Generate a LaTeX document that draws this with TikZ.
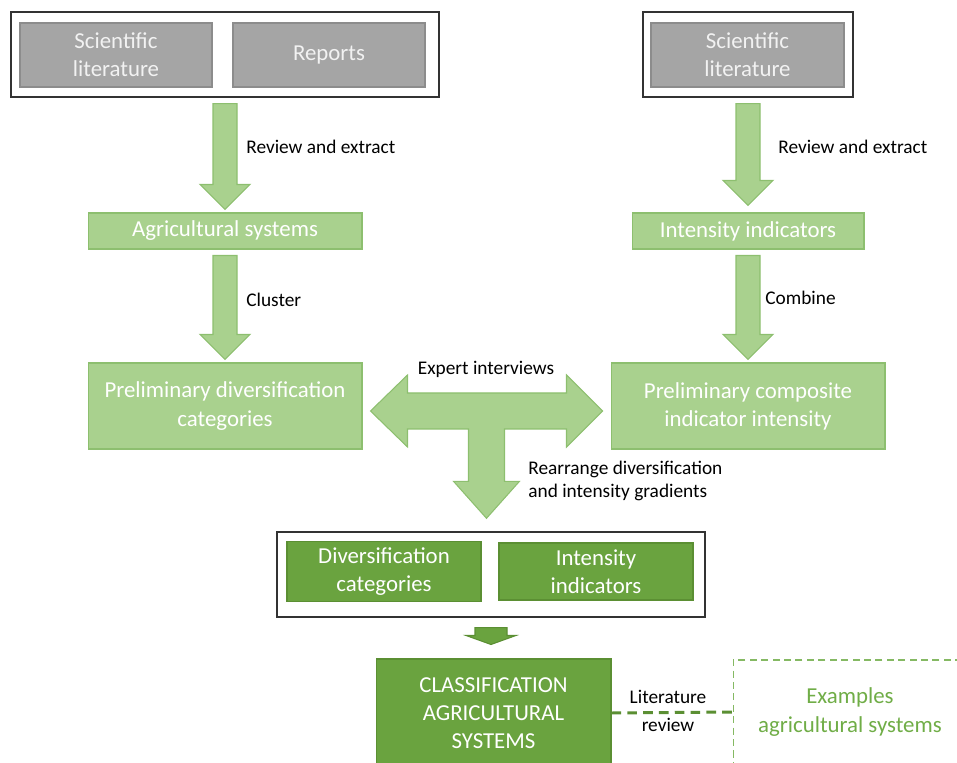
\documentclass[tikz,border=0pt]{standalone}
\usepackage{fontspec}
\setmainfont{Carlito}
\usetikzlibrary{calc}

\definecolor{boxgray}{HTML}{A5A5A5}
\definecolor{edgegray}{HTML}{8C8C8C}
\definecolor{leafgreen}{HTML}{A9D18E}
\definecolor{leafedge}{HTML}{8DBF6F}
\definecolor{deepgreen}{HTML}{6AA33F}
\definecolor{deepedge}{HTML}{5B8F33}
\definecolor{textgreen}{HTML}{70AD47}

% block arrow pointing down: from, tip, shaft half width, head half width, head length (px)
\newcommand\fatdown[6][fatarrow]{%
  \path[#1] let \p1=#2, \p2=#3 in
    ($(\x1,\y1)+(-#4,0)$) -- ($(\x1,\y1)+(#4,0)$) -- ($(\x1,\y2)+(#4,-#6)$)
    -- ($(\x1,\y2)+(#5,-#6)$) -- (\x1,\y2) -- ($(\x1,\y2)+(-#5,-#6)$)
    -- ($(\x1,\y2)+(-#4,-#6)$) -- cycle;}

\begin{document}
\begin{tikzpicture}[x=0.02cm,y=-0.02cm,
  bigtext/.style={font=\fontsize{13}{16}\selectfont},
  note/.style={font=\fontsize{11}{13}\selectfont,inner sep=0pt},
  frame/.style={draw=black!80,line width=0.8pt,fill=white},
  graybox/.style={bigtext,fill=boxgray,draw=edgegray,line width=0.6pt,text=white!95!black,align=center,minimum width=3.84cm,minimum height=1.28cm},
  lightbox/.style={bigtext,fill=leafgreen,draw=leafedge,line width=0.6pt,text=white,align=center,minimum width=5.48cm},
  darkbox/.style={bigtext,fill=deepgreen,draw=deepedge,line width=0.6pt,text=white,align=center,minimum width=3.88cm,minimum height=1.14cm},
  fatarrow/.style={fill=leafgreen,draw=leafedge,line width=0.6pt,line join=miter},
  darkarrow/.style={fill=deepgreen,draw=deepedge,line width=0.6pt,line join=miter}]
  \useasboundingbox (0,0) rectangle (957,763);
  \clip (0,0) rectangle (957,763);

  % sources
  \node[frame,minimum width=8.56cm,minimum height=1.7cm] (frameL) at (225,54.5) {};
  \node[frame,minimum width=4.2cm,minimum height=1.7cm] (frameR) at (748,54.5) {};
  \node[graybox] (sciL) at (116,55) {Scientific\\literature};
  \node[graybox] (reports) at (329,55) {Reports};
  \node[graybox,minimum width=3.86cm] (sciR) at (747.5,55) {Scientific\\literature};

  % first results
  \node[lightbox,minimum height=0.72cm] (agri) at (225,231) {Agricultural systems};
  \node[lightbox,minimum height=0.72cm,minimum width=4.64cm] (intind) at (748,231) {Intensity indicators};

  % preliminary results
  \node[lightbox,minimum height=1.72cm] (prediv) at (225,406) {Preliminary diversification\\categories};
  \node[lightbox,minimum height=1.72cm] (precomp) at (748,406) {Preliminary composite\\indicator intensity};

  % final categories and indicators
  \node[frame,minimum width=8.56cm,minimum height=1.7cm] (frameB) at (491,574.5) {};
  \node[darkbox] (divcat) at (384,571.5) {Diversification\\categories};
  \node[darkbox] (intfin) at (596,571.5) {Intensity\\indicators};

  % classification and examples
  \node[darkbox,minimum width=4.7cm,minimum height=2.16cm] (classif) at (493.5,713) {CLASSIFICATION\\AGRICULTURAL\\SYSTEMS};
  \node[bigtext,draw=textgreen!85!white,dash pattern=on 4pt off 2.5pt,line width=0.6pt,text=textgreen,align=center,minimum width=4.68cm,minimum height=2.08cm] (examples) at (850,712) {Examples\\agricultural systems};

  % block arrows
  \fatdown{($(frameL.south)+(0,6)$)}{($(agri.north)+(0,-3)$)}{12}{25}{25}
  \fatdown{($(frameR.south)+(0,6)$)}{($(intind.north)+(0,-7)$)}{12}{25}{25}
  \fatdown{($(agri.south)+(0,6)$)}{($(prediv.north)+(0,-3)$)}{12}{25}{25}
  \fatdown{($(intind.south)+(0,6)$)}{($(precomp.north)+(0,-3)$)}{12}{25}{25}
  \fatdown[darkarrow]{($(frameB.south)+(0,10)$)}{($(classif.north)+(0,-14)$)}{16}{25}{9}

  % expert interviews: double arrow with stem
  \path[fatarrow] let \p1=($(prediv.east)+(8,5)$), \p2=($(precomp.west)+(-8,5)$),
      \p3=($(frameB.north)+(0,-13)$), \p4=($(\p1)!.5!(\p2)$) in
    (\p1) -- ($(\p1)+(37,-36)$) -- ($(\p1)+(37,-18)$) -- ($(\p2)+(-36,-18)$)
    -- ($(\p2)+(-36,-36)$) -- (\p2) -- ($(\p2)+(-36,36)$) -- ($(\p2)+(-36,18)$)
    -- ($(\x4,\y1)+(18,18)$) -- ($(\x4,\y3)+(18,-37)$) -- ($(\x4,\y3)+(33,-37)$)
    -- (\x4,\y3) -- ($(\x4,\y3)+(-33,-37)$) -- ($(\x4,\y3)+(-18,-37)$)
    -- ($(\x4,\y1)+(-18,18)$) -- ($(\p1)+(37,18)$) -- ($(\p1)+(37,36)$) -- cycle;

  % literature link
  \draw[draw=deepedge,line width=1.7pt,dash pattern=on 5.5pt off 3.5pt] (classif.east) -- (examples.west);

  % labels
  \node[note,anchor=west] (lblreviewL) at (246,147) {Review and extract};
  \node[note,anchor=west] (lblreviewR) at (778,147) {Review and extract};
  \node[note,anchor=west] (lblcluster) at (246,300) {Cluster};
  \node[note,anchor=west] (lblcombine) at (765,298) {Combine};
  \node[note] (lblexpert) at (486,369) {Expert interviews};
  \node[note,anchor=west,align=left] (lblrearrange) at (528,481) {Rearrange diversification\\and intensity gradients};
  \node[note,align=center] (lbllit) at (668,711) {Literature\\[3pt]review};
\end{tikzpicture}
\end{document}
